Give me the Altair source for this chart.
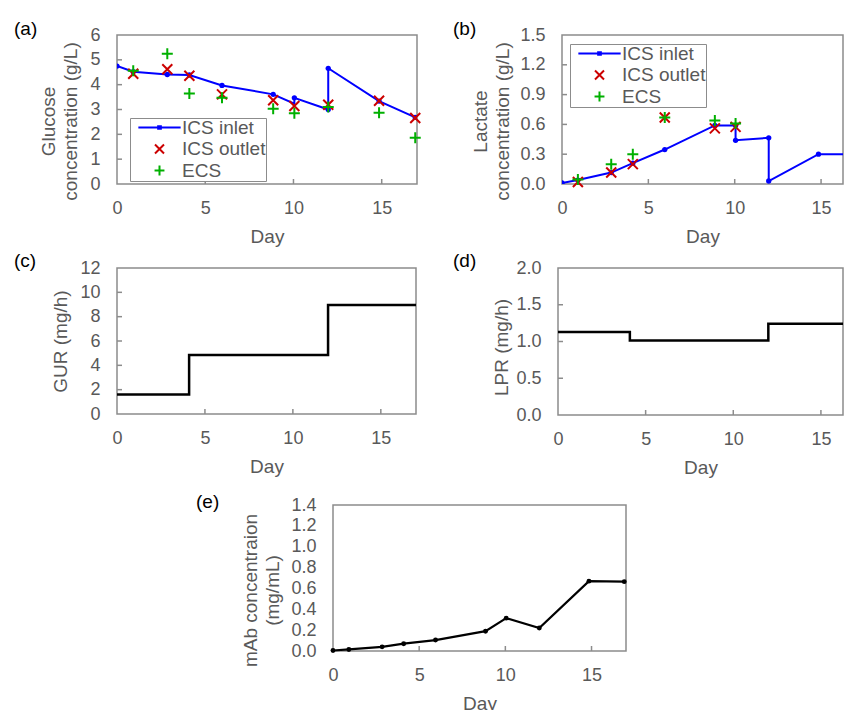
import altair as alt
import pandas as pd

FONT = "Liberation Sans"
TXT = "#595959"
FRAME = "#8c8c8c"
BLUE = "#0000FF"
RED = "#CC0000"
GREEN = "#00B000"
NBSP2 = "\u00a0\u00a0"

series = ["ICS inlet", "ICS outlet", "ECS"]

# ---------------- data ----------------
days = [0, 0.92, 2.85, 4.1, 5.95, 8.85, 10.05, 11.97, 14.85, 16.9]

# (a) glucose
glc_in_day = [0, 0.92, 2.85, 4.1, 5.95, 8.85, 10.05, 10.05, 11.97, 11.97, 14.85, 16.9]
glc_in_val = [4.75, 4.52, 4.41, 4.39, 3.97, 3.61, 3.23, 3.47, 3.0, 4.66, 3.34, 2.68]
glc_in_dot = [1, 1, 1, 1, 1, 1, 0, 1, 1, 1, 1, 1]
glc_out_day = [0.92, 2.85, 4.1, 5.95, 8.85, 10.05, 11.97, 14.85, 16.9]
glc_out_val = [4.44, 4.62, 4.36, 3.61, 3.37, 3.14, 3.19, 3.35, 2.66]
glc_ecs_day = [0.92, 2.85, 4.1, 5.95, 8.85, 10.05, 11.97, 14.85, 16.9]
glc_ecs_val = [4.56, 5.24, 3.64, 3.47, 3.03, 2.85, 3.1, 2.87, 1.86]

# (b) lactate
lac_in_day = [0, 0.92, 2.85, 4.1, 5.95, 8.85, 10.05, 10.05, 11.97, 11.97, 14.85, 16.9]
lac_in_val = [0.01, 0.04, 0.115, 0.21, 0.347, 0.59, 0.59, 0.44, 0.465, 0.03, 0.30, 0.30]
lac_out_day = [0.92, 2.85, 4.1, 5.95, 8.85, 10.05]
lac_out_val = [0.02, 0.115, 0.20, 0.67, 0.56, 0.575]
lac_ecs_day = [0.92, 2.85, 4.1, 5.95, 8.85, 10.05]
lac_ecs_val = [0.045, 0.20, 0.30, 0.67, 0.64, 0.61]

# (c) GUR, (d) LPR step profiles
step_day = [0, 4.1, 12.0, 17.0]
gur_val = [1.6, 4.85, 8.95, 8.95]
lpr_val = [1.13, 1.015, 1.24, 1.24]

# (e) mAb
mab_day = days
mab_val = [0.005, 0.015, 0.04, 0.07, 0.105, 0.19, 0.315, 0.22, 0.67, 0.665]

# tick values
x_ticks = [0, 5, 10, 15]
x_inner = [5, 10, 15]

# ---------------- symbols ----------------
P_INLET = "M-4.7,0L4.7,0M-0.3,-0.3L0.3,-0.3L0.3,0.3L-0.3,0.3Z"
P_X = "M-1,-1L1,1M-1,1L1,-1"
P_PLUS = "M-1.1,0L1.1,0M0,-1.1L0,1.1"


def xenc(domain):
    return alt.X("day:Q", scale=alt.Scale(domain=domain, nice=False, zero=False),
                 axis=alt.Axis(values=x_ticks, title="Day", labelPadding=15,
                               labelFlush=False, titlePadding=10))


def yenc(domain, values, title, fmt, tpad, ty=None):
    kw = dict(values=values, title=title, format=fmt, labelPadding=17,
              titlePadding=tpad, labelFlush=False)
    if ty is not None:
        kw["titleY"] = ty
    return alt.Y("val:Q", scale=alt.Scale(domain=domain, nice=False), axis=alt.Axis(**kw))


def inner_ticks(X, Y, yvals, h, with_y=True):
    layers = []
    tx = alt.Chart(pd.DataFrame({"day": x_inner})).mark_rule(
        color=FRAME, strokeWidth=1.5).encode(x=X, y=alt.value(h), y2=alt.value(h - 5))
    layers.append(tx)
    if with_y:
        ty = alt.Chart(pd.DataFrame({"val": yvals})).mark_rule(
            color=FRAME, strokeWidth=1.5).encode(y=Y, x=alt.value(0), x2=alt.value(5))
        layers.append(ty)
    return layers


def panel_label(txt, dx, dy):
    return alt.Chart(pd.DataFrame({"lab": [txt]})).mark_text(
        align="left", baseline="middle", font=FONT, fontSize=19, color="black"
    ).encode(text="lab:N", x=alt.value(dx), y=alt.value(dy))


def legend(lx, ly):
    return alt.Legend(title=None, orient="none", legendX=lx, legendY=ly,
                      labelFont=FONT, labelFontSize=19, labelColor=TXT,
                      labelExpr="datum.label + '" + NBSP2 + "'",
                      symbolSize=81, symbolStrokeWidth=2, symbolOffset=20,
                      labelOffset=13, padding=0, rowPadding=1.5,
                      strokeColor=FRAME, fillColor="white")


def conc_panel(in_day, in_val, in_dot, out_day, out_val, ecs_day, ecs_val,
               xdom, ydom, yvals, ytitle, fmt, tpad, ty, w, h, lab, labdx, lx, ly):
    X = xenc(xdom)
    Y = yenc(ydom, yvals, ytitle, fmt, tpad, ty)
    inlet = pd.DataFrame({"day": in_day, "val": in_val, "dot": in_dot})
    pts = pd.DataFrame({
        "day": out_day + ecs_day,
        "val": out_val + ecs_val,
        "series": ["ICS outlet"] * len(out_day) + ["ECS"] * len(ecs_day),
    })
    line = alt.Chart(inlet).mark_line(color=BLUE, strokeWidth=2, clip=True).encode(
        x=X, y=Y, order=alt.Order("idx:Q")).transform_window(idx="row_number()")
    dots = alt.Chart(inlet).transform_filter("datum.dot == 1").mark_circle(
        color=BLUE, size=28, opacity=1, clip=True).encode(x=X, y=Y)
    leg = legend(lx, ly)
    marks = alt.Chart(pts).mark_point(filled=False, strokeWidth=2, size=100, opacity=1).encode(
        x=X, y=Y,
        color=alt.Color("series:N", scale=alt.Scale(domain=series, range=[BLUE, RED, GREEN]), legend=leg),
        shape=alt.Shape("series:N", scale=alt.Scale(domain=series, range=[P_INLET, P_X, P_PLUS]), legend=leg),
        order=alt.Order("o:Q"),
    ).transform_window(o="row_number()")
    layers = inner_ticks(X, Y, yvals[1:-1], h) + [line, dots, marks, panel_label(lab, labdx, -6.5)]
    return alt.layer(*layers).properties(width=w, height=h)


def step_panel(vals, xdom, ydom, yvals, ytitle, fmt, tpad, ty, w, h, lab, labdx, labdy):
    X = xenc(xdom)
    Y = yenc(ydom, yvals, ytitle, fmt, tpad, ty)
    df = pd.DataFrame({"day": step_day, "val": vals})
    line = alt.Chart(df).mark_line(color="black", strokeWidth=2.5, interpolate="step-after",
                                   clip=True).encode(x=X, y=Y)
    layers = inner_ticks(X, Y, yvals[1:-1], h) + [line, panel_label(lab, labdx, labdy)]
    return alt.layer(*layers).properties(width=w, height=h)


# (a)
pa = conc_panel(glc_in_day, glc_in_val, glc_in_dot, glc_out_day, glc_out_val, glc_ecs_day, glc_ecs_val,
                [0, 17], [0, 6], [0, 1, 2, 3, 4, 5, 6], ["Glucose", "concentration (g/L)"], "d",
                9, 86, 300, 149, "(a)", -103, 13, 83)
# (b)
pb = conc_panel(lac_in_day, lac_in_val, [1] * 12, lac_out_day, lac_out_val, lac_ecs_day, lac_ecs_val,
                [0, 16.27], [0, 1.5], [0, 0.3, 0.6, 0.9, 1.2, 1.5], ["Lactate", "concentration (g/L)"], ".1f",
                7, 86, 281, 149, "(b)", -109, 8, 9)
# (c)
pc = step_panel(gur_val, [0, 17], [0, 12], [0, 2, 4, 6, 8, 10, 12], "GUR (mg/h)", "d", 9, None,
                299, 146, "(c)", -103, -7.5)
# (d)
pd_ = step_panel(lpr_val, [0, 16.26], [0, 2], [0, 0.5, 1.0, 1.5, 2.0], "LPR (mg/h)", ".1f", 4.5, 79,
                 285, 147, "(d)", -105, -7)

# (e)
Xe = xenc([0, 17])
Ye = yenc([0, 1.4], [0, 0.2, 0.4, 0.6, 0.8, 1.0, 1.2, 1.4], ["mAb concentraion", "(mg/mL)"], ".1f", 8, 85)
mab = pd.DataFrame({"day": mab_day, "val": mab_val})
e_line = alt.Chart(mab).mark_line(color="black", strokeWidth=2.2,
                                  point=alt.OverlayMarkDef(filled=True, size=24, color="black")
                                  ).encode(x=Xe, y=Ye)
pe = alt.layer(*inner_ticks(Xe, Ye, [], 146, with_y=False), e_line,
               panel_label("(e)", -137, -3)).properties(width=293, height=146)

spacer_w = alt.Chart(pd.DataFrame({"a": [0]})).mark_point(opacity=0).encode(
    x=alt.value(0), y=alt.value(0)).properties(width=1, height=1,
                                             view=alt.ViewBackground(strokeOpacity=0))
spacer_h = alt.Chart(pd.DataFrame({"a": [0]})).mark_point(opacity=0).encode(
    x=alt.value(0), y=alt.value(0)).properties(width=1, height=1,
                                             view=alt.ViewBackground(strokeOpacity=0))

row1 = alt.hconcat(pa, pb, spacing=145, bounds="flush").resolve_scale(
    color="independent", shape="independent").resolve_legend(
    color="independent", shape="independent")
row2 = alt.hconcat(pc, pd_, spacing=142, bounds="flush")
row3 = alt.hconcat(spacer_w, alt.vconcat(spacer_h, pe, spacing=20, bounds="flush"),
                   spacing=215, bounds="flush")

chart = alt.vconcat(row1, row2, row3, spacing=3).properties(
    padding={"left": 13, "top": 18, "right": 0, "bottom": 0},
    background="white",
).configure_view(stroke=FRAME, strokeWidth=1.5).configure_axis(
    domain=False, ticks=False, grid=False,
    labelFont=FONT, labelFontSize=18, labelColor=TXT,
    titleFont=FONT, titleFontSize=19, titleColor=TXT, titleFontWeight="normal",
    titleLineHeight=22,
)

chart.save("out.html", embed_options={"renderer": "svg", "actions": False})
